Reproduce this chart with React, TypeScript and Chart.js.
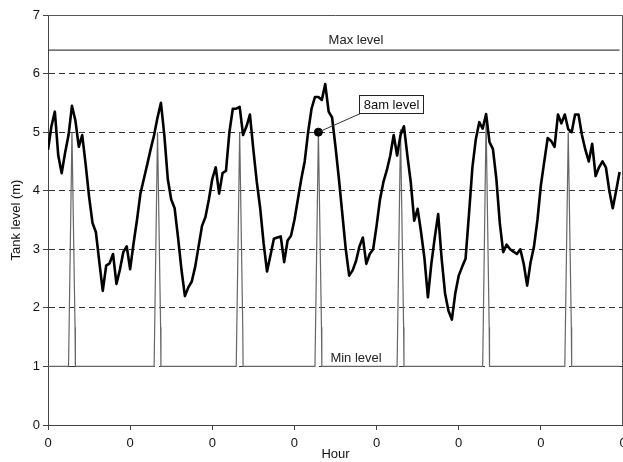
import React, { useEffect, useRef } from "react";
import { Chart, registerables } from "chart.js";

Chart.register(...registerables);

// Hourly tank level (m), hour 0 .. 167
const tankLevel = [
  4.7, 5.1, 5.35, 4.6, 4.3, 4.65, 4.95, 5.45, 5.2, 4.75,
  4.95, 4.45, 3.9, 3.45, 3.29, 2.78, 2.29, 2.72, 2.76, 2.92,
  2.41, 2.65, 2.95, 3.05, 2.66, 3.1, 3.5, 3.95, 4.2, 4.45,
  4.71, 4.95, 5.25, 5.5, 4.94, 4.2, 3.85, 3.7, 3.2, 2.65,
  2.2, 2.35, 2.45, 2.7, 3.05, 3.4, 3.55, 3.85, 4.2, 4.4,
  3.95, 4.3, 4.34, 5.0, 5.4, 5.4, 5.43, 4.95, 5.1, 5.3,
  4.7, 4.15, 3.7, 3.1, 2.62, 2.9, 3.18, 3.2, 3.22, 2.78,
  3.15, 3.23, 3.5, 3.85, 4.2, 4.5, 5.0, 5.4, 5.6, 5.6,
  5.55, 5.82, 5.35, 5.25, 4.75, 4.2, 3.6, 3.0, 2.55, 2.64,
  2.8, 3.05, 3.2, 2.75, 2.92, 3.0, 3.4, 3.85, 4.15, 4.35,
  4.6, 4.95, 4.6, 4.95, 5.1, 4.6, 4.14, 3.49, 3.69, 3.29,
  2.84, 2.18, 2.75, 3.2, 3.6, 2.85, 2.25, 1.95, 1.8, 2.25,
  2.55, 2.7, 2.84, 3.6, 4.4, 4.88, 5.17, 5.06, 5.31, 4.83,
  4.71, 4.2, 3.45, 2.95, 3.08, 3.0, 2.96, 2.92, 3.0, 2.75,
  2.38, 2.78, 3.05, 3.5, 4.09, 4.5, 4.9, 4.85, 4.75, 5.3,
  5.15, 5.3, 5.05, 5.0, 5.3, 5.3, 4.95, 4.7, 4.5, 4.8,
  4.25, 4.4, 4.5, 4.4, 4.0, 3.7, 4.0, 4.32,
];

const maxLevel = 6.4;
const minLevel = 1;
const lastHour = 167;

// 8am pulses on the min-level trace
const spikeHours = [7, 32, 56, 79, 103, 128, 152];
const spikeLevels = [5.0, 5.0, 5.0, 5.0, 5.05, 5.2, 5.0];
const spikeShoulder = 1.67;

const eightAmHour = 79;
const eightAmLevel = 5.0;

const labelHour = 90;

const xTickLabels = ["0", "0", "0", "0", "0", "0", "0", "0"];
const yTickLabels = ["0", "1", "2", "3", "4", "5", "6", "7"];

const FONT = '"Liberation Sans", Arial, sans-serif';

export default function App() {
  const ref = useRef<HTMLCanvasElement | null>(null);

  useEffect(() => {
    if (!ref.current) return;

    const tankData = tankLevel.map((v, i) => ({ x: i, y: v }));
    const minData: { x: number; y: number }[] = [{ x: 0, y: minLevel }];
    spikeHours.forEach((h, i) => {
      minData.push({ x: h - 1, y: minLevel });
      minData.push({ x: h, y: spikeLevels[i] });
      minData.push({ x: h + 0.9, y: spikeShoulder });
      minData.push({ x: h + 1, y: minLevel });
    });
    minData.push({ x: lastHour, y: minLevel });
    const maxData = [
      { x: 0, y: maxLevel },
      { x: lastHour, y: maxLevel },
    ];

    const annot = {
      id: "annot",
      afterDatasetsDraw(chart: any) {
        const { ctx, chartArea: a, scales } = chart;
        const x = scales.x;
        const y = scales.y;
        ctx.save();
        // frame top/right
        ctx.strokeStyle = "#555";
        ctx.lineWidth = 1;
        ctx.setLineDash([]);
        ctx.beginPath();
        ctx.moveTo(a.left, Math.round(a.top) + 0.5);
        ctx.lineTo(Math.round(a.right) - 0.5, Math.round(a.top) + 0.5);
        ctx.lineTo(Math.round(a.right) - 0.5, a.bottom);
        ctx.stroke();

        ctx.font = "13px " + FONT;
        ctx.fillStyle = "#222";
        ctx.textAlign = "center";
        ctx.textBaseline = "bottom";
        ctx.fillText("Max level", x.getPixelForValue(labelHour), y.getPixelForValue(maxLevel) - 3);
        ctx.fillText("Min level", x.getPixelForValue(labelHour), y.getPixelForValue(minLevel) - 2);

        const px = x.getPixelForValue(eightAmHour);
        const py = y.getPixelForValue(eightAmLevel);
        const bx = Math.round(px + 41) + 0.5;
        const by = Math.round(py - 37) + 0.5;
        const bw = 64;
        const bh = 18;
        ctx.strokeStyle = "#333";
        ctx.lineWidth = 1;
        ctx.beginPath();
        ctx.moveTo(px, py);
        ctx.lineTo(bx + 1, by + bh);
        ctx.stroke();
        ctx.fillStyle = "#fff";
        ctx.fillRect(bx, by, bw, bh);
        ctx.strokeStyle = "#222";
        ctx.strokeRect(bx, by, bw, bh);
        ctx.fillStyle = "#111";
        ctx.textBaseline = "middle";
        ctx.fillText("8am level", bx + bw / 2, by + bh / 2 + 1);
        ctx.restore();
      },
    };

    const chart = new Chart(ref.current, {
      type: "line",
      data: {
        datasets: [
          {
            label: "8am level",
            data: [{ x: eightAmHour, y: eightAmLevel }],
            showLine: false,
            pointRadius: 4,
            pointBackgroundColor: "#000",
            pointBorderColor: "#000",
            borderColor: "#000",
          },
          {
            label: "Tank level",
            data: tankData,
            borderColor: "#000",
            borderWidth: 2.6,
            pointRadius: 0,
            tension: 0,
            borderJoinStyle: "round",
          },
          {
            label: "Min level",
            data: minData,
            borderColor: "#666",
            borderWidth: 1.2,
            pointRadius: 0,
            tension: 0,
          },
          {
            label: "Max level",
            data: maxData,
            borderColor: "#444",
            borderWidth: 1.3,
            pointRadius: 0,
            tension: 0,
          },
        ],
      },
      options: {
        responsive: false,
        animation: false,
        events: [],
        layout: { padding: { left: 0, right: 1, top: 15, bottom: 0 } },
        plugins: {
          legend: { display: false },
          tooltip: { enabled: false },
        },
        scales: {
          x: {
            type: "linear",
            min: 0,
            max: 168,
            afterFit(scale: any) {
              scale.height = 37;
              scale.paddingLeft = 0;
              scale.paddingRight = 0;
            },
            ticks: {
              stepSize: 24,
              padding: 6,
              color: "#111",
              font: { family: FONT, size: 13 },
              maxRotation: 0,
              autoSkip: false,
              callback: (_v: any, i: number) => xTickLabels[i],
            },
            grid: {
              drawOnChartArea: false,
              drawTicks: true,
              tickLength: 5,
              tickColor: "#444",
            },
            border: { color: "#444", width: 1 },
            title: {
              display: true,
              text: "Hour",
              color: "#111",
              font: { family: FONT, size: 13 },
              padding: { top: 0, bottom: 0 },
            },
          },
          y: {
            type: "linear",
            min: 0,
            max: 7,
            afterFit(scale: any) {
              scale.width = 48;
            },
            ticks: {
              stepSize: 1,
              padding: 3,
              color: "#111",
              font: { family: FONT, size: 13 },
              callback: (_v: any, i: number) => yTickLabels[i],
            },
            grid: {
              color: (c: any) =>
                c.tick && (c.tick.value === 0 || c.tick.value === 7) ? "rgba(0,0,0,0)" : "#333",
              lineWidth: 1,
              tickLength: 5,
              tickColor: "#444",
            },
            border: { color: "#444", width: 1, dash: [6, 4] },
            title: {
              display: true,
              text: "Tank level (m)",
              color: "#111",
              font: { family: FONT, size: 13 },
              padding: { top: 9, bottom: 0 },
            },
          },
        },
      },
      plugins: [annot],
    } as any);

    return () => chart.destroy();
  }, []);

  return (
    <div
      style={{
        position: "fixed",
        left: 0,
        top: 0,
        width: 623,
        height: 462,
        overflow: "hidden",
        background: "#fff",
      }}
    >
      <canvas ref={ref} width={628} height={462} style={{ display: "block" }} />
    </div>
  );
}
